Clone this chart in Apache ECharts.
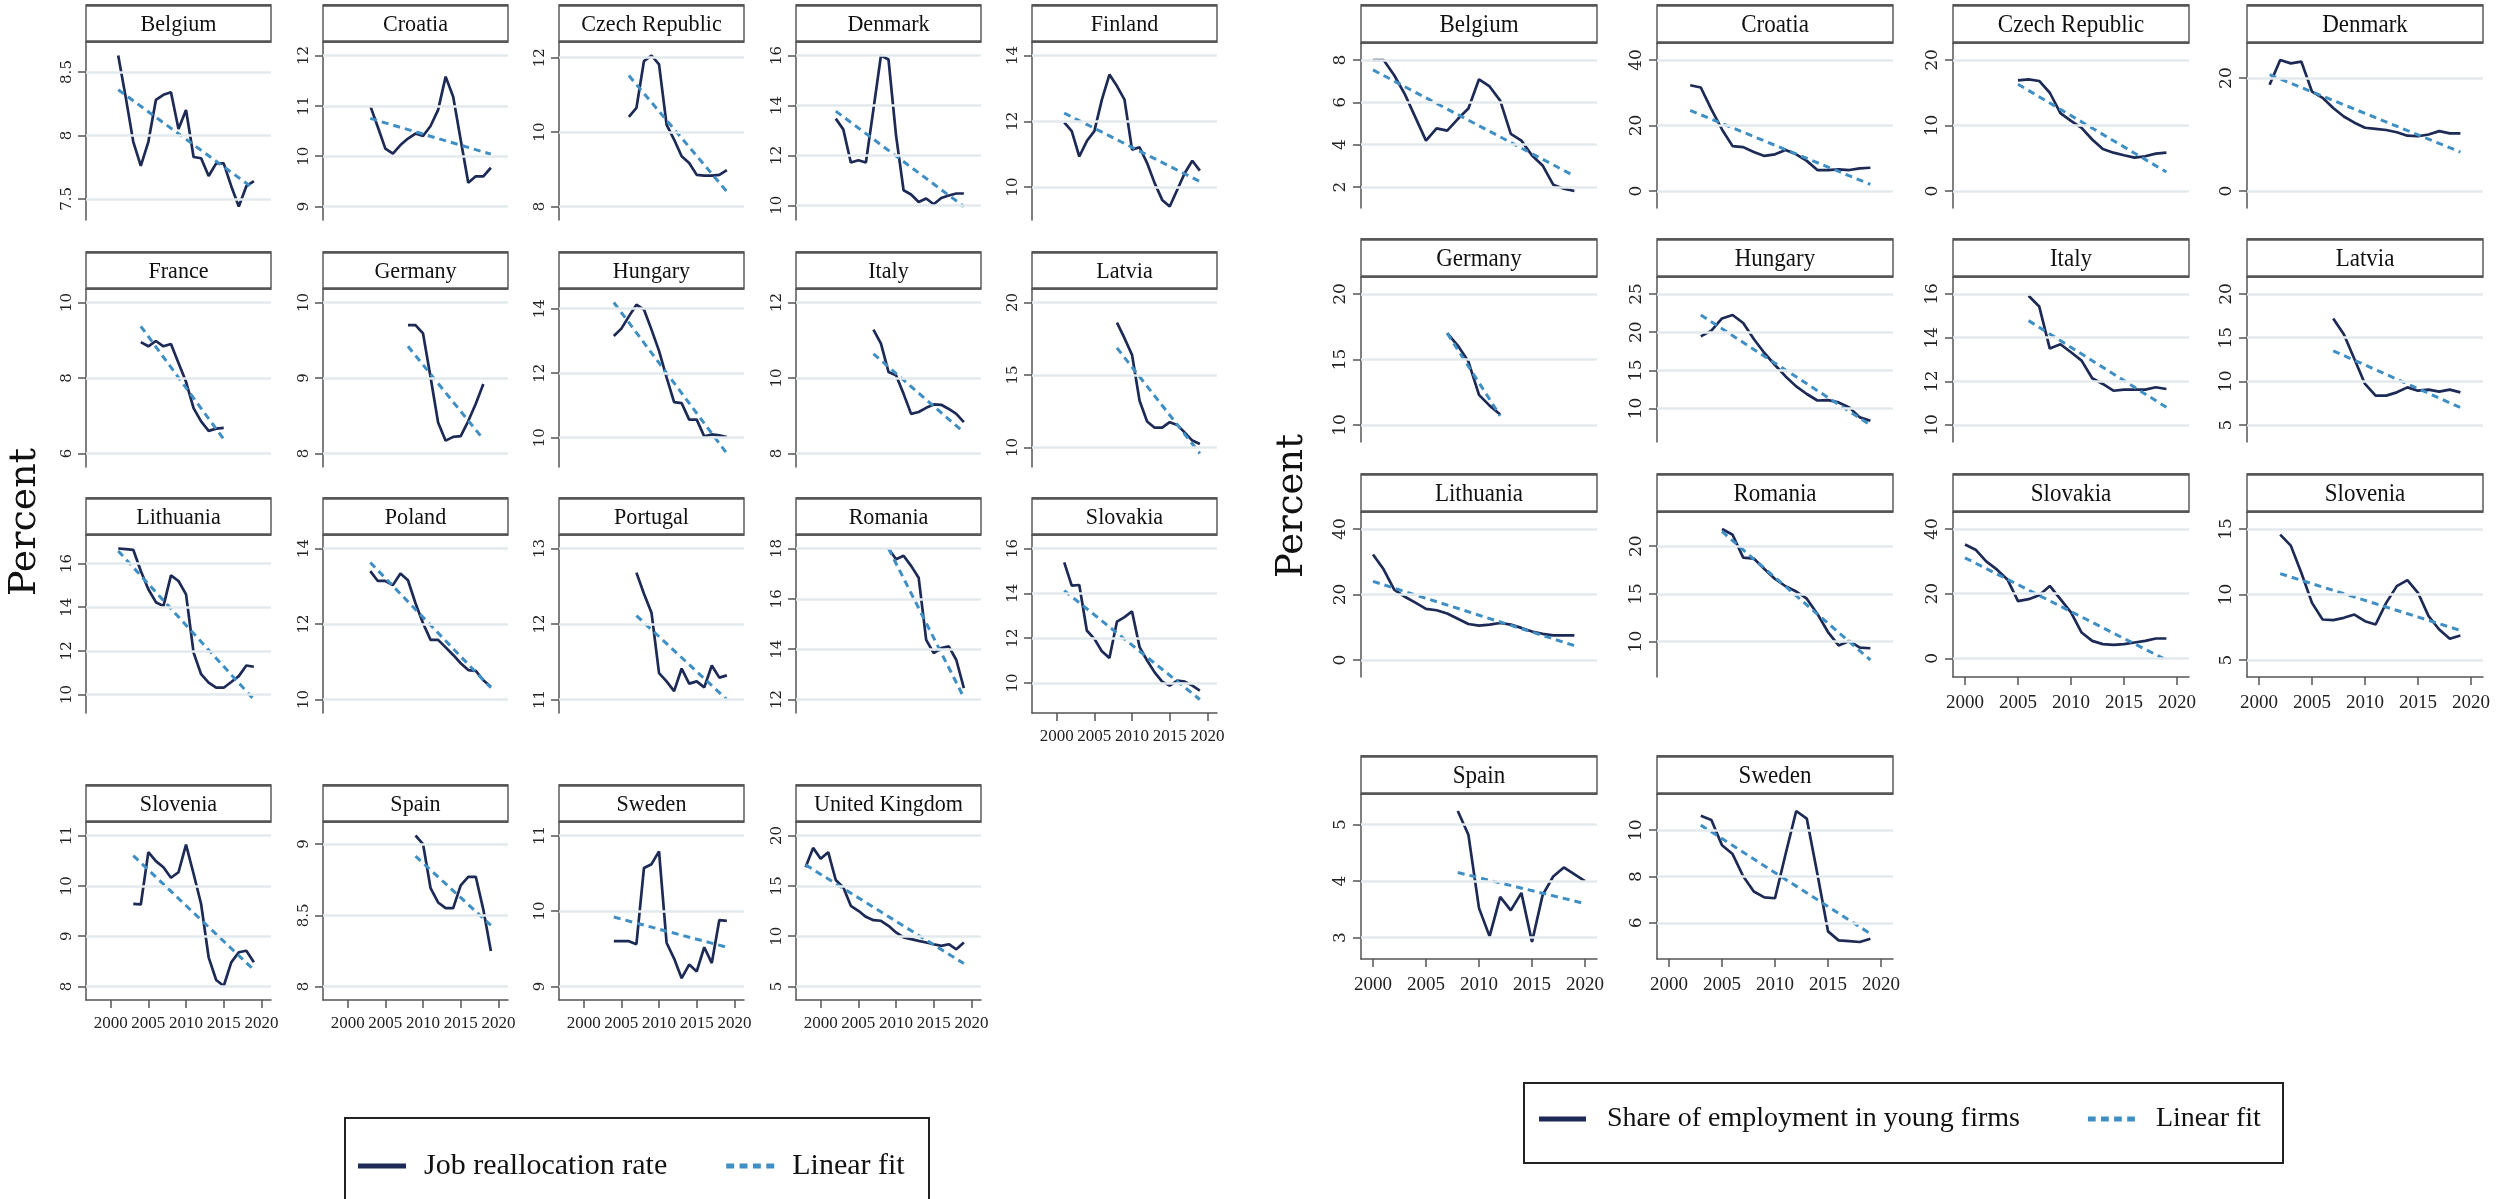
<!DOCTYPE html>
<html><head><meta charset="utf-8">
<script src="https://cdn.jsdelivr.net/npm/echarts@6/dist/echarts.min.js"></script>
<style>html,body{margin:0;padding:0;background:#fff}#c{width:2504px;height:1199px}</style>
</head><body><div id="c"></div>
<script>
// ================= DATA =================
// Shared x-axis tick labels (years)
const yearTicks = [2000, 2005, 2010, 2015, 2020];

// ---- Left: Job reallocation rate ----
const jrCountries = ['Belgium','Croatia','Czech Republic','Denmark','Finland','France','Germany','Hungary','Italy','Latvia','Lithuania','Poland','Portugal','Romania','Slovakia','Slovenia','Spain','Sweden','United Kingdom'];
const jrStartYears = [2001,2003,2006,2002,2001,2004,2008,2004,2007,2008,2001,2003,2007,2009,2001,2003,2009,2004,1998];
const jrBelgium = [8.63,8.3,7.95,7.76,7.95,8.28,8.32,8.34,8.05,8.2,7.83,7.82,7.68,7.78,7.78,7.6,7.44,7.6,7.64];
const jrCroatia = [11.0,10.58,10.15,10.05,10.22,10.35,10.45,10.4,10.6,10.92,11.58,11.18,10.32,9.47,9.6,9.6,9.77];
const jrCzech = [10.41,10.65,11.91,12.06,11.82,10.2,9.8,9.35,9.17,8.85,8.83,8.83,8.85,8.98];
const jrDenmark = [13.47,13.04,11.71,11.8,11.71,13.84,16.0,15.84,12.8,10.6,10.43,10.13,10.27,10.04,10.29,10.39,10.47,10.47];
const jrFinland = [11.97,11.7,10.93,11.4,11.7,12.66,13.42,13.07,12.66,11.14,11.21,10.73,10.12,9.61,9.41,9.92,10.43,10.8,10.5];
const jrFrance = [8.95,8.84,8.98,8.84,8.9,8.4,7.9,7.2,6.85,6.6,6.66,6.68];
const jrGermany = [9.7,9.7,9.59,9.01,8.41,8.17,8.22,8.23,8.43,8.66,8.92];
const jrHungary = [13.15,13.38,13.76,14.12,13.97,13.35,12.69,11.87,11.1,11.07,10.56,10.56,10.04,10.1,10.07,10.02];
const jrItaly = [11.28,10.91,10.16,10.07,9.58,9.05,9.1,9.21,9.3,9.29,9.18,9.05,8.83];
const jrLatvia = [18.61,17.54,16.39,13.23,11.8,11.37,11.37,11.75,11.56,11.03,10.48,10.24];
const jrLithuania = [16.69,16.66,16.63,15.66,14.82,14.23,14.05,15.46,15.2,14.59,11.92,10.93,10.54,10.31,10.31,10.57,10.84,11.33,11.27];
const jrPoland = [13.4,13.14,13.14,13.03,13.34,13.16,12.55,12.02,11.58,11.58,11.38,11.18,10.96,10.78,10.76,10.51,10.34];
const jrPortugal = [12.68,12.4,12.15,11.35,11.24,11.11,11.41,11.21,11.24,11.16,11.45,11.29,11.32];
const jrRomania = [18.0,17.57,17.71,17.31,16.84,14.37,13.84,14.04,14.11,13.57,12.45];
const jrSlovakia = [15.38,14.34,14.37,12.34,11.97,11.41,11.11,12.74,12.94,13.19,11.6,11.0,10.47,10.06,9.88,10.1,10.06,9.88,9.66];
const jrSlovenia = [9.64,9.63,10.67,10.49,10.37,10.16,10.27,10.82,10.24,9.64,8.58,8.13,8.01,8.48,8.68,8.71,8.48];
const jrSpain = [9.06,9.0,8.69,8.59,8.55,8.55,8.71,8.77,8.77,8.54,8.25];
const jrSweden = [9.6,9.6,9.6,9.56,10.57,10.62,10.79,9.58,9.37,9.11,9.29,9.2,9.52,9.31,9.88,9.87];
const jrUK = [16.84,18.77,17.68,18.34,15.58,14.85,13.02,12.52,11.92,11.59,11.53,11.03,10.37,9.87,9.7,9.53,9.37,9.2,9.04,9.2,8.7,9.37];
const jrValues = [jrBelgium,jrCroatia,jrCzech,jrDenmark,jrFinland,jrFrance,jrGermany,jrHungary,jrItaly,jrLatvia,jrLithuania,jrPoland,jrPortugal,jrRomania,jrSlovakia,jrSlovenia,jrSpain,jrSweden,jrUK];
// linear-fit line: value at first and last year of each country's data
const jrFitStart = [8.36,10.75,11.52,13.77,12.25,9.37,9.42,14.19,10.64,16.87,16.58,13.63,12.11,18.0,14.12,10.6,8.915,9.92,17.08];
const jrFitEnd   = [7.58,10.04,8.4,9.95,10.17,6.38,8.19,9.51,8.56,9.59,9.77,10.31,11.0,12.08,9.26,8.33,8.43,9.52,7.28];
const jrTicks = [[7.5,8,8.5],[9,10,11,12],[8,10,12],[10,12,14,16],[10,12,14],[6,8,10],[8,9,10],[10,12,14],[8,10,12],[10,15,20],[10,12,14,16],[10,12,14],[11,12,13],[12,14,16,18],[10,12,14,16],[8,9,10,11],[8,8.5,9],[9,10,11],[5,10,15,20]];

// ---- Right: Share of employment in young firms ----
const yfCountries = ['Belgium','Croatia','Czech Republic','Denmark','Germany','Hungary','Italy','Latvia','Lithuania','Romania','Slovakia','Slovenia','Spain','Sweden'];
const yfStartYears = [2000,2002,2005,2001,2007,2003,2006,2007,2000,2005,2000,2002,2008,2003];
const yfBelgium = [8.0,8.0,7.28,6.39,5.29,4.19,4.77,4.66,5.21,5.71,7.09,6.75,6.08,4.51,4.19,3.49,3.02,2.11,1.92,1.81];
const yfCroatia = [32.3,31.6,24.9,18.8,13.7,13.4,11.9,10.7,11.2,12.5,11.2,9.2,6.4,6.4,6.6,6.4,6.9,7.1];
const yfCzech = [16.9,17.05,16.8,15.0,11.9,10.7,9.64,7.86,6.4,5.85,5.45,5.1,5.3,5.7,5.85];
const yfDenmark = [18.8,23.2,22.6,22.9,17.6,16.5,14.7,13.2,12.1,11.2,11.0,10.8,10.4,9.8,9.7,10.0,10.6,10.2,10.2];
const yfGermany = [17.02,16.06,14.84,12.3,11.48,10.8];
const yfHungary = [19.45,20.2,21.8,22.25,21.2,19.1,17.27,15.7,14.2,12.9,11.9,11.05,11.1,10.8,10.15,8.84,8.4];
const yfItaly = [15.92,15.43,13.5,13.7,13.33,12.95,12.14,11.88,11.57,11.62,11.62,11.62,11.73,11.65];
const yfLatvia = [17.2,15.4,12.56,9.7,8.36,8.36,8.74,9.31,8.93,9.05,8.82,9.05,8.74];
const yfLithuania = [32.2,27.7,21.5,19.3,17.5,15.6,15.2,14.2,12.6,11.0,10.5,10.8,11.3,10.8,9.8,8.7,8.0,7.5,7.5,7.5];
const yfRomania = [21.8,21.2,18.8,18.7,17.6,16.56,15.8,15.25,14.5,12.9,11.0,9.6,10.07,9.37,9.3];
const yfSlovakia = [35.2,33.6,30.0,27.5,24.4,17.7,18.3,19.5,22.4,18.3,14.2,8.0,5.4,4.4,4.2,4.4,4.9,5.4,6.15,6.15];
const yfSlovenia = [14.57,13.73,11.64,9.36,8.09,8.04,8.22,8.47,7.96,7.71,9.36,10.64,11.1,10.13,8.35,7.33,6.62,6.87];
const yfSpain = [5.24,4.82,3.52,3.02,3.72,3.48,3.79,2.92,3.75,4.08,4.24,null,4.0];
const yfSweden = [10.62,10.44,9.35,8.97,8.01,7.35,7.1,7.06,8.97,10.83,10.5,8.11,5.63,5.24,5.21,5.17,5.31];
const yfValues = [yfBelgium,yfCroatia,yfCzech,yfDenmark,yfGermany,yfHungary,yfItaly,yfLatvia,yfLithuania,yfRomania,yfSlovakia,yfSlovenia,yfSpain,yfSweden];
const yfFitStart = [7.53,24.6,16.3,20.6,17.0,22.25,14.78,13.5,24.0,21.54,31.1,11.59,4.15,10.22];
const yfFitEnd   = [2.52,2.0,2.9,6.9,10.7,7.84,10.81,7.0,4.4,8.07,-0.5,7.26,3.6,5.53];
const yfTicks = [[2,4,6,8],[0,20,40],[0,10,20],[0,20],[10,15,20],[10,15,20,25],[10,12,14,16],[5,10,15,20],[0,20,40],[10,15,20],[0,20,40],[5,10,15],[3,4,5],[6,8,10]];

const legendLeftNames = ['Job reallocation rate', 'Linear fit'];
const legendRightNames = ['Share of employment in young firms', 'Linear fit'];
const yTitle = 'Percent';

// ================= STYLE / LAYOUT =================
const SERIF = '"Liberation Serif", "Times New Roman", serif';
const TICKFONT = '"DejaVu Serif", serif';
const NAVY = '#1c2a55', FITBLUE = '#3f8fc5', GRIDC = '#e3eaed', AXISC = '#555555';

const LEFT = {
  names: jrCountries, starts: jrStartYears, values: jrValues, fitA: jrFitStart, fitB: jrFitEnd, ticks: jrTicks,
  colX: [86, 323, 559, 796, 1032], rowY: [42, 289, 535, 822], W: 185, H: 178, headerH: 37, cols: 5,
  yMargin: 13.5, xMarginPx: 9.6, bottomAxis: [14, 15, 16, 17, 18], seriesName: legendLeftNames[0],
  yLabelSize: 15, yLabelMargin: 11, xLabelSize: 17, xLabelMargin: 15, headSize: 24, headScale: 0.92
};
const RIGHT = {
  names: yfCountries, starts: yfStartYears, values: yfValues, fitA: yfFitStart, fitB: yfFitEnd, ticks: yfTicks,
  colX: [1361, 1657, 1953, 2247], rowY: [43, 277, 512, 794], W: 236, H: 165, headerH: 38, cols: 4,
  yMargin: 17, xMarginPx: 12, bottomAxis: [10, 11, 12, 13], seriesName: legendRightNames[0],
  yLabelSize: 17, yLabelMargin: 12, xLabelSize: 19, xLabelMargin: 17, headSize: 25, headScale: 0.92
};

function padRange(lo, hi, len, m) {
  const upp = (hi - lo) / (len - 2 * m);
  return [lo - m * upp, hi + m * upp];
}

const option = {
  animation: false,
  backgroundColor: '#ffffff',
  grid: [], xAxis: [], yAxis: [], series: [], graphic: [],
  legend: []
};

function addPanels(P) {
  let xLo = Infinity, xHi = -Infinity;
  P.values.forEach((v, i) => {
    xLo = Math.min(xLo, P.starts[i]);
    xHi = Math.max(xHi, P.starts[i] + v.length - 1);
  });
  xLo = Math.min(xLo, yearTicks[0]);
  xHi = Math.max(xHi, yearTicks[yearTicks.length - 1]);
  const [xMin, xMax] = padRange(xLo, xHi, P.W, P.xMarginPx);

  P.names.forEach((name, i) => {
    const col = i % P.cols, row = Math.floor(i / P.cols);
    const left = P.colX[col], top = P.rowY[row];
    const gi = option.grid.length;
    option.grid.push({ left: left, top: top, width: P.W, height: P.H, containLabel: false });

    const vals = P.values[i];
    const start = P.starts[i];
    const endYear = start + vals.length - 1;
    const pts = vals.map((v, k) => [start + k, v]);
    const fit = [[start, P.fitA[i]], [endYear, P.fitB[i]]];
    const all = vals.filter(v => v != null).concat([P.fitA[i], P.fitB[i]], P.ticks[i]);
    const [yMin, yMax] = padRange(Math.min.apply(null, all), Math.max.apply(null, all), P.H, P.yMargin);
    const showX = P.bottomAxis.indexOf(i) >= 0;

    option.xAxis.push({
      gridIndex: gi, type: 'value', min: xMin, max: xMax, show: showX,
      axisLine: { show: true, onZero: false, lineStyle: { color: AXISC, width: 1.5 } },
      axisTick: { show: true, customValues: yearTicks, length: 8, lineStyle: { color: AXISC, width: 1.5 } },
      axisLabel: { show: true, customValues: yearTicks, margin: P.xLabelMargin, fontFamily: SERIF,
                   fontSize: P.xLabelSize, color: '#222', formatter: v => String(v) },
      splitLine: { show: false }
    });
    option.yAxis.push({
      gridIndex: gi, type: 'value', min: yMin, max: yMax,
      axisLine: { show: true, onZero: false, lineStyle: { color: AXISC, width: 1.5 } },
      axisTick: { show: true, customValues: P.ticks[i], length: 8, lineStyle: { color: AXISC, width: 1.5 } },
      axisLabel: { show: true, customValues: P.ticks[i], rotate: 90, margin: P.yLabelMargin, fontFamily: TICKFONT,
                   fontSize: P.yLabelSize, color: '#222', formatter: v => String(v) },
      splitLine: { show: false }
    });
    // gridlines at tick values (through the axis scale)
    option.series.push({
      type: 'line', name: 'grid' + gi, xAxisIndex: gi, yAxisIndex: gi, data: fit, silent: true,
      symbol: 'none', lineStyle: { opacity: 0 }, z: 1, tooltip: { show: false },
      markLine: { silent: true, symbol: ['none', 'none'], label: { show: false }, animation: false,
                  lineStyle: { color: GRIDC, width: 2.5, type: 'solid' },
                  emphasis: { disabled: true },
                  data: P.ticks[i].map(t => ({ yAxis: t })) }
    });
    option.series.push({
      type: 'line', name: P.seriesName, xAxisIndex: gi, yAxisIndex: gi, data: pts, symbol: 'none',
      connectNulls: true, color: NAVY, lineStyle: { color: NAVY, width: 2.7 }, z: 3, silent: true
    });
    option.series.push({
      type: 'line', name: 'Linear fit', xAxisIndex: gi, yAxisIndex: gi, data: fit, symbol: 'none',
      color: FITBLUE, lineStyle: { color: FITBLUE, width: 3, type: [7, 5] }, z: 4, silent: true
    });
    // header strip
    const hy = top - P.headerH;
    option.graphic.push({
      type: 'rect', z: 50,
      shape: { x: left, y: hy, width: P.W, height: P.headerH },
      style: { fill: '#ffffff', stroke: '#444444', lineWidth: 1.3 }
    });
    option.graphic.push({
      type: 'line', z: 51, shape: { x1: left, y1: hy + 0.5, x2: left + P.W, y2: hy + 0.5 },
      style: { stroke: '#555555', lineWidth: 2.6 }
    });
    option.graphic.push({
      type: 'line', z: 51, shape: { x1: left, y1: top - 0.5, x2: left + P.W, y2: top - 0.5 },
      style: { stroke: '#555555', lineWidth: 2.6 }
    });
    option.graphic.push({
      type: 'text', z: 52, x: left + P.W / 2, y: top - P.headerH / 2 + 1, scaleX: P.headScale,
      style: { text: name, font: P.headSize + 'px "Liberation Serif"', fill: '#111',
               textAlign: 'center', textVerticalAlign: 'middle', align: 'center', verticalAlign: 'middle' }
    });
  });
}

addPanels(LEFT);
addPanels(RIGHT);

// y-axis titles
option.graphic.push({
  type: 'text', x: 25, y: 522, rotation: Math.PI / 2, z: 51,
  style: { text: yTitle, font: '38px "DejaVu Serif"', fill: '#111', textAlign: 'center', textVerticalAlign: 'middle', align: 'center', verticalAlign: 'middle' }
});
option.graphic.push({
  type: 'text', x: 1292, y: 506, rotation: Math.PI / 2, z: 51,
  style: { text: yTitle, font: '37px "DejaVu Serif"', fill: '#111', textAlign: 'center', textVerticalAlign: 'middle', align: 'center', verticalAlign: 'middle' }
});
// legend frames
option.graphic.push({
  type: 'rect', z: 0, shape: { x: 345, y: 1118, width: 584, height: 100 },
  style: { fill: 'none', stroke: '#222', lineWidth: 2 }
});
option.graphic.push({
  type: 'rect', z: 0, shape: { x: 1524, y: 1083, width: 759, height: 80 },
  style: { fill: 'none', stroke: '#222', lineWidth: 2 }
});

const DOT_ICON = 'path://M0,0h8v5h-8zM13.5,0h8v5h-8zM27,0h8v5h-8zM40.5,0h8v5h-8z';
option.legend.push({
  left: 358, top: 1151, orient: 'horizontal', padding: 0, itemGap: 59, itemWidth: 48, itemHeight: 5,
  symbolKeepAspect: false, selectedMode: false,
  textStyle: { fontFamily: SERIF, fontSize: 30, color: '#111', padding: [0, 0, 0, 13] },
  itemStyle: { borderWidth: 0 },
  data: [{ name: legendLeftNames[0], icon: 'rect', itemStyle: { color: NAVY } },
         { name: legendLeftNames[1], icon: DOT_ICON, itemStyle: { color: FITBLUE } }]
});
option.legend.push({
  left: 1539, top: 1105, orient: 'horizontal', padding: 0, itemGap: 68, itemWidth: 47, itemHeight: 5,
  symbolKeepAspect: false, selectedMode: false,
  textStyle: { fontFamily: SERIF, fontSize: 28, color: '#111', padding: [0, 0, 0, 16] },
  itemStyle: { borderWidth: 0 },
  data: [{ name: legendRightNames[0], icon: 'rect', itemStyle: { color: NAVY } },
         { name: legendRightNames[1], icon: DOT_ICON, itemStyle: { color: FITBLUE } }]
});

const chart = echarts.init(document.getElementById('c'), null, { renderer: 'canvas', width: 2504, height: 1199 });
chart.setOption(option);
</script>
</body></html>
